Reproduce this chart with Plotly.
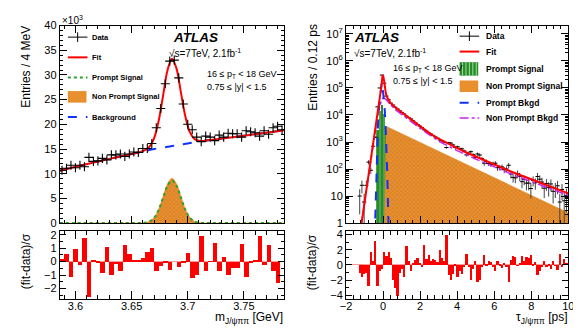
import numpy as np
import plotly.graph_objects as go

W, H = 581, 328
FONT = "Liberation Sans, Arial, sans-serif"

# ---------------- left: J/psi pi pi mass fit (4 MeV bins) ----------------
m_lo, m_bin = 3.586, 0.004
m_data = [10.7, 11.1, 11.7, 11.2, 11.7, 11.4, 13.3, 12.5, 12.6, 13.1,
          12.8, 13.8, 13.8, 14.0, 13.5, 14.0, 14.4, 14.3, 15.1, 15.1,
          16.1, 19.3, 23.2, 28.2, 32.8, 33.0, 29.4, 24.1, 20.0, 18.9,
          17.4, 16.5, 17.6, 17.4, 16.7, 17.8, 17.4, 18.2, 18.1, 18.1,
          17.4, 18.7, 18.5, 18.3, 17.6, 18.7, 18.0, 19.3, 19.6, 18.9]
m_pull = [0.25, 0.55, -1.1, 0.95, -0.2, 1.75, -2.6, 0.15, -0.05, -0.85,
          1.1, -0.95, -0.15, -0.7, 1.25, 0.6, 0.1, 0.15, 0.3, 0.75,
          1.05, -0.65, -0.3, -0.05, -0.6, 0.0, -0.4, -0.1, 0.65, -1.2,
          -0.95, 1.95, -0.7, 0.05, 1.4, -0.7, 0.35, -1.0, -0.45, -0.45,
          1.35, -1.1, -0.1, 0.15, 1.9, -0.25, 1.25, -0.7, -1.6, 0.0]
m_curve = [3.586, 3.600, 3.615, 3.630, 3.642, 3.650, 3.654, 3.658, 3.662, 3.666,
           3.670, 3.674, 3.678, 3.682, 3.686, 3.690, 3.694, 3.698, 3.702, 3.706,
           3.710, 3.714, 3.718, 3.726, 3.740, 3.755, 3.770, 3.786]
m_bkg = [10.6, 11.4, 12.2, 13.0, 13.6, 14.0, 14.2, 14.4, 14.6, 14.8,
         15.0, 15.15, 15.3, 15.45, 15.6, 15.75, 15.9, 16.05, 16.2, 16.35,
         16.5, 16.62, 16.75, 17.0, 17.4, 17.85, 18.3, 18.8]
m_prompt = [0, 0, 0, 0, 0, 0, 0, 0.01, 0.08, 0.33,
            1.05, 2.63, 5.08, 7.54, 8.6, 7.54, 5.08, 2.63, 1.05, 0.33,
            0.08, 0.01, 0, 0, 0, 0, 0, 0]
m_nonprompt = [0, 0, 0, 0, 0, 0, 0, 0.01, 0.09, 0.35,
               1.11, 2.78, 5.38, 7.98, 9.1, 7.98, 5.38, 2.78, 1.11, 0.35,
               0.09, 0.01, 0, 0, 0, 0, 0, 0]

# ---------------- right: pseudo-proper time fit (0.12 ps bins) ----------------
tau_lo, tau_bin = -1.32, 0.12
tau_data = [10, 25, 6, 25, 180, 90, 700, 1500, 2.0e4, 1.0e5,
            3.0e5, 1.5e5, 5.0e4, 36350, 27330, 23300, 19400, 16700, 14220, 12360,
            10870, 9060, 8050, 7170, 6080, 5150, 4430, 3880, 3410, 2810,
            2530, 2180, 1970, 1740, 1540, 1385, 1190, 1105, 1000, 625,
            945, 909, 779, 622, 670, 576, 556, 466, 334, 385,
            438, 340, 269, 360, 329, 241, 163, 191, 161, 151,
            157, 164, 112, 114, 120, 94, 101, 138, 65, 49,
            47, 67, 54, 34, 41, 30, 30, 19, 38, 31,
            53, 42, 33, 19.5, 29, 21, 28, 15, 19.5, 24,
            6, 17.5, 6.7, 10.6]
tau_pull = [-1.0, -1.6, -1.2, -1.0, -2.8, 1.8, 0.6, 3.2, -2.8, -0.8,
            -0.5, 1.8, 1.2, 1.8, 1.0, -2.0, -3.0, -4.0, -1.0, -0.5,
            -1.6, 2.5, 0.6, -0.8, 0.3, 0.7, 1.0, 0.3, -0.2, 2.6,
            0.8, 1.3, 0.5, 0.8, 0.7, 0.4, 2.0, 1.0, 0.6, 4.0,
            -1.3, -2.0, -1.2, 0.1, -1.5, -0.8, -1.2, -0.3, 1.5, -0.2,
            -2.0, -0.5, 0.5, -2.2, -2.0, -0.3, 1.3, 0.05, 0.5, 0.4,
            -0.2, -0.8, 0.6, 0.2, -0.4, 0.3, -0.3, -2.2, 0.7, 1.2,
            1.1, -0.1, 0.3, 1.2, 0.6, 1.1, 0.9, 1.4, 0.1, 0.4,
            -1.3, -0.7, -0.2, 0.6, -0.3, 0.2, -0.5, 0.5, -0.1, -0.6,
            1.5, -0.2, 0.8, 0.3]
event_weight = 2.5

fit_tau = [-1.16, -0.9, -0.6, -0.3, -0.1, -0.03, 0.0, 0.05, 0.1, 0.15,
           0.2, 0.4, 0.7, 1.0, 1.5, 2.0, 2.5, 3.0, 3.5, 4.0,
           4.5, 5.0, 6.0, 7.0, 8.0, 9.0, 10.0]
fit_val = [1, 16, 400, 1.0e4, 1.0e5, 2.8e5, 3.0e5, 2.0e5, 1.0e5, 6.3e4,
           4.8e4, 2.8e4, 1.8e4, 1.26e4, 7.1e3, 3.8e3, 2.14e3, 1.32e3, 870, 590,
           410, 290, 145, 76, 42, 23, 12.6]
npb_tau = [-1.16, -0.6, -0.3, -0.1, 0.0, 0.1, 0.2, 0.4, 0.7, 1.0,
           1.5, 2.0, 3.0, 4.0, 5.0, 6.0, 7.0, 8.0, 9.0, 10.0]
npb_val = [1, 400, 8.9e3, 3.2e4, 4.2e4, 4.0e4, 3.5e4, 2.4e4, 1.5e4, 1.05e4,
           5.8e3, 3.2e3, 1.07e3, 480, 234, 117, 62, 34, 19, 10.7]
pb_tau = [-0.45, -0.40, -0.37, -0.32, -0.27, -0.22, -0.17, -0.12, -0.07,
          -0.02, 0.03, 0.08, 0.13, 0.18, 0.23, 0.26, 0.31]
pb_val = [0.32, 7.9, 63, 790, 5.0e3, 2.0e4, 5.0e4, 1.0e5, 1.6e5,
          1.0e5, 5.0e4, 2.0e4, 5.0e3, 790, 63, 7.9, 0.32]
ps_tau = [-0.30, -0.18, -0.06, 0.06, 0.18]
ps_val = [3.0e3, 1.4e4, 2.5e4, 1.1e4, 2.0e3]
nps_tau = [0.08, 0.17, 10.0, 10.0]
nps_val = [1, 3800, 2.4, 1]

RED, BLUE, GREEN, MAG = "#ff0000", "#1030ff", "#2ca02c", "#cc22ee"
ORANGE, ORANGE_D = "#e8902e", "#a8561a"

m_x = m_lo + m_bin * (np.arange(len(m_data)) + 0.5)
t_x = tau_lo + tau_bin * (np.arange(len(tau_data)) + 0.5)
m_fit = np.array(m_bkg) + np.array(m_prompt) + np.array(m_nonprompt)
t_err = event_weight * np.sqrt(np.array(tau_data))

fig = go.Figure()

# left main
fig.add_trace(go.Scatter(x=m_curve, y=m_nonprompt, mode="lines", line=dict(color=ORANGE, width=0.5, shape="spline"),
                         fill="tozeroy", fillcolor=ORANGE,
                         fillpattern=dict(shape="x", fgcolor=ORANGE_D, bgcolor=ORANGE, size=3, solidity=0.3),
                         xaxis="x", yaxis="y"))
fig.add_trace(go.Scatter(x=m_curve, y=m_prompt, mode="lines", line=dict(color=GREEN, width=2, dash="dot", shape="spline"),
                         xaxis="x", yaxis="y"))
fig.add_trace(go.Scatter(x=m_curve, y=m_bkg, mode="lines", line=dict(color=BLUE, width=2, dash="dash", shape="spline"),
                         xaxis="x", yaxis="y"))
fig.add_trace(go.Scatter(x=m_curve, y=m_fit, mode="lines", line=dict(color=RED, width=2, shape="spline"),
                         xaxis="x", yaxis="y"))
fig.add_trace(go.Scatter(x=m_x, y=m_data, mode="markers",
                         marker=dict(symbol="cross-thin", size=6.5, line=dict(width=1.1, color="black")),
                         xaxis="x", yaxis="y"))
# left ratio
fig.add_trace(go.Bar(x=m_x, y=m_pull, width=m_bin, marker=dict(color=RED, line=dict(width=0)),
                     xaxis="x2", yaxis="y2"))

# right main
fig.add_trace(go.Bar(x=ps_tau, y=ps_val, base=1, width=tau_bin,
                     marker=dict(color="#2a8a2a", line=dict(width=0),
                                 pattern=dict(shape="|", fgcolor="#9be09b", bgcolor="#2a8a2a", size=4, solidity=0.3)),
                     xaxis="x3", yaxis="y3"))
fig.add_trace(go.Scatter(x=nps_tau, y=nps_val, mode="lines", line=dict(color=ORANGE, width=0.5),
                         fill="toself", fillcolor=ORANGE,
                         fillpattern=dict(shape="x", fgcolor=ORANGE_D, bgcolor=ORANGE, size=3, solidity=0.3),
                         xaxis="x3", yaxis="y3"))
fig.add_trace(go.Scatter(x=t_x, y=tau_data, mode="markers",
                         marker=dict(symbol="line-ew", size=3, line=dict(width=1, color="black")),
                         error_y=dict(type="data", array=t_err, color="#444444", thickness=1, width=0),
                         xaxis="x3", yaxis="y3"))
fig.add_trace(go.Scatter(x=npb_tau, y=npb_val, mode="lines", line=dict(color=MAG, width=1.5, dash="dashdot"),
                         xaxis="x3", yaxis="y3"))
fig.add_trace(go.Scatter(x=pb_tau, y=pb_val, mode="lines", line=dict(color=BLUE, width=2, dash="dash"),
                         xaxis="x3", yaxis="y3"))
fig.add_trace(go.Scatter(x=fit_tau, y=fit_val, mode="lines", line=dict(color=RED, width=2),
                         xaxis="x3", yaxis="y3"))
# right ratio
fig.add_trace(go.Bar(x=t_x, y=tau_pull, width=tau_bin, marker=dict(color=RED, line=dict(width=0)),
                     xaxis="x4", yaxis="y4"))


def px(v):
    return v / W


def py(v):
    return 1 - v / H


def axis(domain, rng, anchor, major, minor_dtick, ticklen=7, labels=True, **kw):
    d = dict(domain=domain, range=rng, anchor=anchor, showline=True, linecolor="black", linewidth=1,
             mirror="allticks", ticks="inside", ticklen=ticklen, tickcolor="black", showgrid=False,
             zeroline=False, showticklabels=labels, tickfont=dict(size=11, color="black", family=FONT),
             dtick=major,
             minor=dict(ticks="inside", ticklen=ticklen / 2, dtick=minor_dtick, tickcolor="black", showgrid=False))
    d.update(kw)
    return d


xl = [px(46.7), px(276)]
xr = [px(339), px(566)]
ymain = [py(217), py(12)]
yrat = [py(296), py(225)]

log_ticks = [10 ** k for k in range(8)]
log_text = ["1", "10"] + ["10<sup>%d</sup>" % k for k in range(2, 8)]
log_minor = [j * 10 ** k for k in range(8) for j in range(2, 10)]

fig.update_layout(
    width=W, height=H, margin=dict(l=0, r=0, t=0, b=0),
    paper_bgcolor="white", plot_bgcolor="white", showlegend=False, bargap=0,
    font=dict(family=FONT, color="black"),
    xaxis=axis(xl, [m_lo, 3.786], "y", 0.05, 0.01, labels=False, tick0=3.6),
    yaxis=axis(ymain, [0, 40], "x", 5, 1),
    xaxis2=axis(xl, [m_lo, 3.786], "y2", 0.05, 0.01, ticklen=8, tick0=3.6, ticklabelstandoff=-3),
    yaxis2=axis(yrat, [-2.8, 2.3], "x2", 1, 0.5, ticklen=6,
                zeroline=True, zerolinecolor="#ff9a9a", zerolinewidth=1),
    xaxis3=axis(xr, [-2, 10], "y3", 2, 0.4, labels=False),
    yaxis3=dict(axis(ymain, [0, 7.31], "x3", None, None), type="log", tickmode="array",
                tickvals=log_ticks, ticktext=log_text,
                minor=dict(ticks="inside", ticklen=3.5, tickmode="array", tickvals=log_minor,
                           tickcolor="black", showgrid=False)),
    xaxis4=axis(xr, [-2, 10], "y4", 2, 0.4, ticklen=8, ticklabelstandoff=-3),
    yaxis4=axis(yrat, [-4.5, 4.5], "x4", 2, 1, ticklen=6,
                zeroline=True, zerolinecolor="#ff9a9a", zerolinewidth=1),
)

ann = []


def text(x, y, s, size=10, xanchor="left", angle=0, bold=False, italic=False):
    if bold:
        s = "<b>%s</b>" % s
    if italic:
        s = "<i>%s</i>" % s
    ann.append(dict(x=px(x), y=py(y), xref="paper", yref="paper", text=s, showarrow=False,
                    xanchor=xanchor, yanchor="middle", textangle=angle,
                    font=dict(size=size, family=FONT, color="black")))


# axis titles
text(47, 6, "\u00d710<sup>3</sup>", 10)
text(12, 55, "Entries / 4 MeV", 12, "center", -90)
text(12, 257, "(fit-data)/\u03c3", 12, "center", -90)
text(277, 316, "m<sub>J/\u03c8\u03c0\u03c0</sub> [GeV]", 12, "right")
text(305, 55, "Entries / 0.12 ps", 12, "center", -90)
text(304, 258, "(fit-data)/\u03c3", 12, "center", -90)
text(567, 316, "\u03c4<sub>J/\u03c8\u03c0\u03c0</sub> [ps]", 12, "right")

# labels
for x0, y0, x1, y1 in [(160, 24, 156, 40), (345, 24, 345, 40)]:
    text(x0, y0, "ATLAS", 13.5, bold=True, italic=True)
    text(x1, y1, "\u221as=7TeV, 2.1fb<sup>-1</sup>", 10)
text(195, 63, "16 \u2264 p<sub>T</sub> &lt; 18 GeV", 9)
text(195, 76, "0.75 \u2264 |y| &lt; 1.5", 9)
text(385, 57, "16 \u2264 p<sub>T</sub> &lt; 18 GeV", 9)
text(385, 70, "0.75 \u2264 |y| &lt; 1.5", 9)

shapes = []


def seg(x0, y0, x1, y1, color, width=2, dash="solid"):
    shapes.append(dict(type="line", xref="paper", yref="paper", x0=px(x0), y0=py(y0), x1=px(x1), y1=py(y1),
                       line=dict(color=color, width=width, dash=dash)))


def box(x0, y0, x1, y1, color):
    shapes.append(dict(type="rect", xref="paper", yref="paper", x0=px(x0), y0=py(y0), x1=px(x1), y1=py(y1),
                       fillcolor=color, line=dict(width=0)))


# left legend
lx0, lx1, ltx = 55, 75, 78
rows_l = [24, 45, 66, 86, 107]
seg(lx0, rows_l[0], lx1, rows_l[0], "black", 1)
seg((lx0 + lx1) / 2, rows_l[0] - 5, (lx0 + lx1) / 2, rows_l[0] + 5, "black", 1)
seg(lx0, rows_l[1], lx1, rows_l[1], RED, 2)
seg(lx0, rows_l[2], lx1, rows_l[2], GREEN, 2, "dot")
box(lx0, rows_l[3] - 6, lx1 - 1, rows_l[3] + 6, ORANGE)
seg(lx0, rows_l[4], lx1, rows_l[4], BLUE, 2, "dash")
for r, s in zip(rows_l, ["Data", "Fit", "Prompt Signal", "Non Prompt Signal", "Background"]):
    text(ltx, r, s, 7.5, bold=True)

# right legend
rx0, rx1, rtx = 455, 475, 480
rows_r = [23, 39, 57, 75, 92, 108]
seg(rx0, rows_r[0], rx1, rows_r[0], "black", 1)
seg((rx0 + rx1) / 2, rows_r[0] - 5, (rx0 + rx1) / 2, rows_r[0] + 5, "black", 1)
seg(rx0, rows_r[1], rx1, rows_r[1], RED, 2)
box(rx0, rows_r[2] - 7, rx1 - 1, rows_r[2] + 7, "#2a8a2a")
for k in range(5):
    xs = rx0 + 3 + 3.5 * k
    seg(xs, rows_r[2] - 7, xs, rows_r[2] + 7, "#9be09b", 1)
box(rx0, rows_r[3] - 6, rx1 - 1, rows_r[3] + 6, ORANGE)
seg(rx0, rows_r[4], rx1, rows_r[4], BLUE, 2, "dash")
seg(rx0, rows_r[5], rx1, rows_r[5], MAG, 1.5, "dashdot")
for r, s in zip(rows_r, ["Data", "Fit", "Prompt Signal", "Non Prompt Signal", "Prompt Bkgd", "Non Prompt Bkgd"]):
    text(rtx, r, s, 8.5, bold=True)

fig.update_layout(annotations=ann, shapes=shapes)
fig.write_html("out.html")
